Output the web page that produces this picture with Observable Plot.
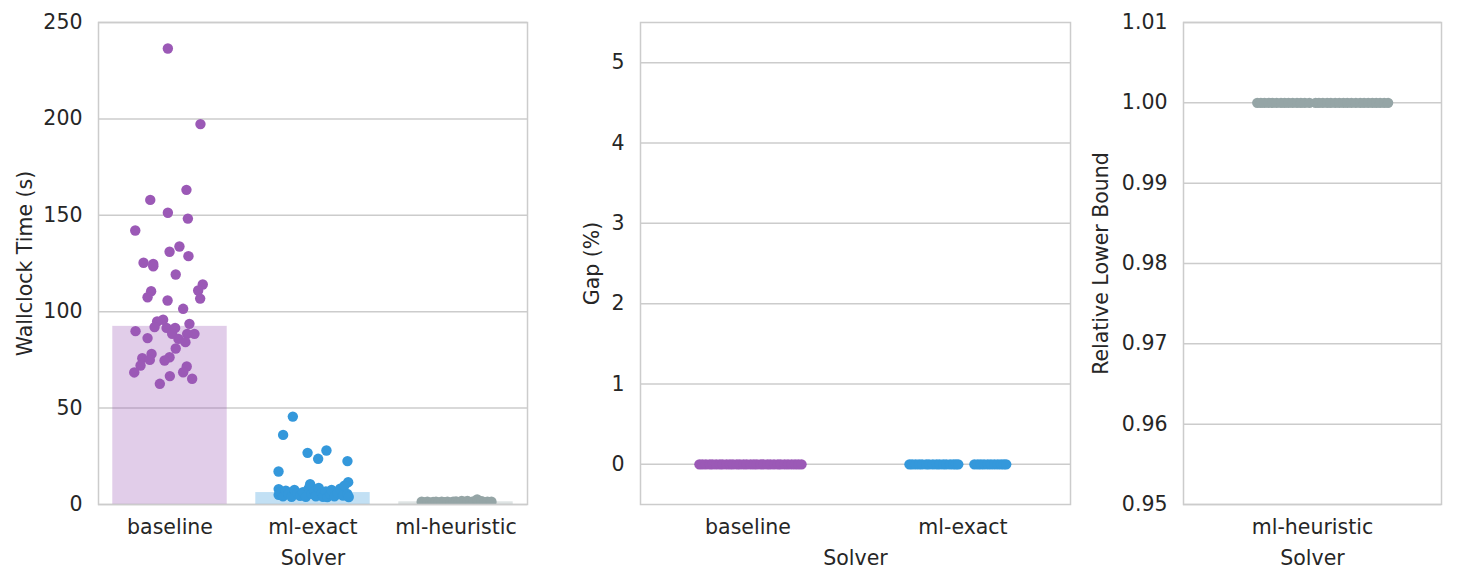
<!DOCTYPE html>
<html><head><meta charset="utf-8">
<script src="https://cdn.jsdelivr.net/npm/d3@7"></script>
<script src="https://cdn.jsdelivr.net/npm/@observablehq/plot@0.6"></script>
<style>
body{margin:0;background:#fff;}
#wrap{position:relative;width:1484px;height:582px;display:flex;}
#wrap svg{display:block;flex:none}
</style></head><body><div id="wrap"></div>
<script>
// ---- data ----
const solvers = ["baseline", "ml-exact", "ml-heuristic"];
const solverColors = ["#9b59b6", "#3498db", "#95a5a6"];
const timeMedian = [92.4, 6.2, 1.4];
const timeTicks = [0, 50, 100, 150, 200, 250];
const gapTicks = [0, 1, 2, 3, 4, 5];
const lbTicks = [0.95, 0.96, 0.97, 0.98, 0.99, 1.00, 1.01];

const baselineTime = [236.5, 197.3, 163.2, 158.0, 151.3, 148.3, 142.1, 133.8, 131.1, 128.8,
  125.4, 124.8, 123.6, 119.3, 114.1, 111.0, 110.6, 107.5, 106.8, 105.8,
  101.5, 95.8, 94.9, 93.7, 92.0, 89.9, 91.6, 91.6, 88.5, 88.5,
  88.5, 86.3, 85.9, 84.2, 80.9, 78.1, 75.9, 75.0, 76.4, 74.7,
  72.1, 71.6, 68.5, 68.6, 66.6, 65.2, 62.6];
const baselineTimeJitter = [-0.015, 0.213, 0.115, -0.138, -0.015, 0.125, -0.243, 0.066, -0.003, 0.129,
  -0.185, -0.117, -0.117, 0.04, 0.229, 0.197, -0.132, -0.157, 0.211, -0.017,
  0.092, -0.048, -0.09, 0.136, -0.108, -0.241, -0.024, 0.036, 0.015, 0.171,
  0.12, -0.157, 0.059, 0.108, 0.04, -0.129, -0.194, -0.141, -0.003, -0.038,
  -0.206, 0.117, -0.25, 0.092, -0.001, 0.155, -0.071];

const exactTime = [45.6, 36.1, 26.8, 28.0, 23.7, 22.5, 17.1, 11.6,
  8.0, 5.0, 6.5, 4.2, 7.2, 5.5, 4.0, 7.6, 5.8, 4.5, 6.4, 4.0, 8.4, 10.5, 5.5, 7.0, 4.3,
  8.6, 5.8, 4.0, 6.8, 3.9, 5.4, 7.5, 4.2, 6.0, 8.2, 4.6, 9.8, 5.5, 3.9];
const exactTimeJitter = [-0.141, -0.209, -0.038, 0.094, 0.036, 0.241, -0.241, 0.246,
  -0.24, -0.24, -0.225, -0.21, -0.19, -0.17, -0.15, -0.13, -0.11, -0.09, -0.07, -0.05, -0.03, -0.02, -0.01, 0.01, 0.02,
  0.04, 0.06, 0.07, 0.09, 0.1, 0.12, 0.13, 0.15, 0.17, 0.19, 0.21, 0.22, 0.24, 0.25];

const heuristicTime = [1.4, 1.1, 1.5, 0.9, 1.3, 1.5, 1.0, 1.4, 1.2, 1.5, 0.9, 1.4, 1.6,
  1.1, 1.8, 1.3, 1.9, 1.2, 1.6, 2.6, 1.4, 1.7, 1.1, 1.5, 1.2, 1.4];
const heuristicTimeJitter = [-0.24, -0.22, -0.2, -0.18, -0.16, -0.14, -0.12, -0.1, -0.08, -0.06, -0.04, -0.02, 0.0,
  0.02, 0.04, 0.06, 0.08, 0.1, 0.12, 0.148, 0.16, 0.18, 0.2, 0.22, 0.24, 0.248];

const gapBaseline = [0, 0, 0, 0, 0, 0, 0, 0, 0, 0, 0, 0, 0, 0, 0, 0, 0, 0, 0, 0, 0, 0, 0, 0, 0, 0, 0, 0, 0, 0, 0];
const gapBaselineJitter = [-0.226, -0.212, -0.196, -0.178, -0.165, -0.148, -0.131, -0.118, -0.1, -0.084, -0.07,
  -0.052, -0.038, -0.021, -0.006, 0.012, 0.027, 0.041, 0.059, 0.072, 0.09, 0.104, 0.121, 0.139, 0.152,
  0.17, 0.186, 0.203, 0.219, 0.234, 0.249];
const gapExact = [0, 0, 0, 0, 0, 0, 0, 0, 0, 0, 0, 0, 0, 0, 0, 0, 0, 0, 0, 0, 0, 0, 0, 0, 0, 0, 0];
const gapExactJitter = [-0.249, -0.236, -0.22, -0.204, -0.19, -0.171, -0.158, -0.14, -0.123, -0.109, -0.092,
  -0.078, -0.06, -0.045, -0.033, -0.022, 0.053, 0.069, 0.083, 0.098, 0.115, 0.13, 0.146, 0.162, 0.177, 0.19, 0.201];

const lbHeuristic = [1, 1, 1, 1, 1, 1, 1, 1, 1, 1, 1, 1, 1, 1, 1, 1, 1, 1, 1, 1, 1, 1, 1, 1, 1, 1, 1, 1, 1, 1, 1, 1, 1];
const lbHeuristicJitter = [-0.214, -0.2, -0.186, -0.17, -0.155, -0.139, -0.122, -0.108, -0.093, -0.077, -0.06,
  -0.045, -0.03, -0.012, 0.012, 0.025, 0.04, 0.057, 0.071, 0.088, 0.104, 0.12, 0.135, 0.151, 0.168, 0.185,
  0.2, 0.216, 0.232, 0.247, 0.262, 0.278, 0.293];

// ---- helpers ----
const font = "'DejaVu Sans', sans-serif";
const textColor = "#262626";
const gridColor = "#cccccc";
const barHalf = 0.4;
const dotR = 5.2;

function rows(values, jitter, pos) {
  return values.map((v, k) => ({x: pos + jitter[k], y: v}));
}

function panel({width, marginLeft, marginRight, cats, yDomain, yTicks, yFormat, yLabel, yLabelOffset, marks}) {
  return Plot.plot({
    width, height: 582, marginTop: 22, marginBottom: 78, marginLeft, marginRight,
    style: {fontFamily: font, fontSize: "20.5px", color: textColor, background: "white", overflow: "visible"},
    x: {domain: [-0.5, cats.length - 0.5], ticks: cats.map((c, i) => i), tickFormat: i => cats[i],
        tickSize: 0, tickPadding: 15, label: "Solver", labelAnchor: "center", labelOffset: 60, labelArrow: "none"},
    y: {domain: yDomain, ticks: yTicks, tickFormat: yFormat, tickSize: 0, tickPadding: 16,
        label: yLabel, labelAnchor: "center", labelOffset: yLabelOffset, labelArrow: "none"},
    marks: [
      Plot.ruleY(yTicks, {stroke: gridColor, strokeWidth: 1.5}),
      ...marks,
      Plot.frame({stroke: gridColor, strokeWidth: 1.5})
    ]
  });
}

// ---- panel 1: wallclock time ----
const timeValues = [baselineTime, exactTime, heuristicTime];
const timeJitter = [baselineTimeJitter, exactTimeJitter, heuristicTimeJitter];
const p1Marks = [];
solvers.forEach((s, i) => {
  p1Marks.push(Plot.rectY([{i, v: timeMedian[i]}], {x1: d => d.i - barHalf, x2: d => d.i + barHalf, y1: 0, y2: "v",
    fill: solverColors[i], fillOpacity: 0.3}));
});
solvers.forEach((s, i) => {
  p1Marks.push(Plot.dot(rows(timeValues[i], timeJitter[i], i), {x: "x", y: "y", r: dotR, fill: solverColors[i], stroke: "none", clip: true}));
});
const p1 = panel({width: 560, marginLeft: 98, marginRight: 33, cats: solvers,
  yDomain: [0, 250], yTicks: timeTicks, yFormat: d3.format("d"), yLabel: "Wallclock Time (s)", yLabelOffset: 81, marks: p1Marks});

// ---- panel 2: gap ----
const p2Marks = [
  Plot.dot(rows(gapBaseline, gapBaselineJitter, 0), {x: "x", y: "y", r: dotR, fill: solverColors[0], stroke: "none"}),
  Plot.dot(rows(gapExact, gapExactJitter, 1), {x: "x", y: "y", r: dotR, fill: solverColors[1], stroke: "none"})
];
const p2 = panel({width: 540, marginLeft: 80, marginRight: 30, cats: solvers.slice(0, 2),
  yDomain: [-0.5, 5.5], yTicks: gapTicks, yFormat: d3.format("d"), yLabel: "Gap (%)", yLabelOffset: 56, marks: p2Marks});

// ---- panel 3: relative lower bound ----
const p3Marks = [
  Plot.dot(rows(lbHeuristic, lbHeuristicJitter, 0), {x: "x", y: "y", r: dotR, fill: solverColors[2], stroke: "none"})
];
const p3 = panel({width: 384, marginLeft: 83, marginRight: 43, cats: solvers.slice(2),
  yDomain: [0.95, 1.01], yTicks: lbTicks, yFormat: d3.format(".2f"), yLabel: "Relative Lower Bound", yLabelOffset: 90, marks: p3Marks});

const wrap = document.getElementById("wrap");
wrap.append(p1, p2, p3);
</script></body></html>
